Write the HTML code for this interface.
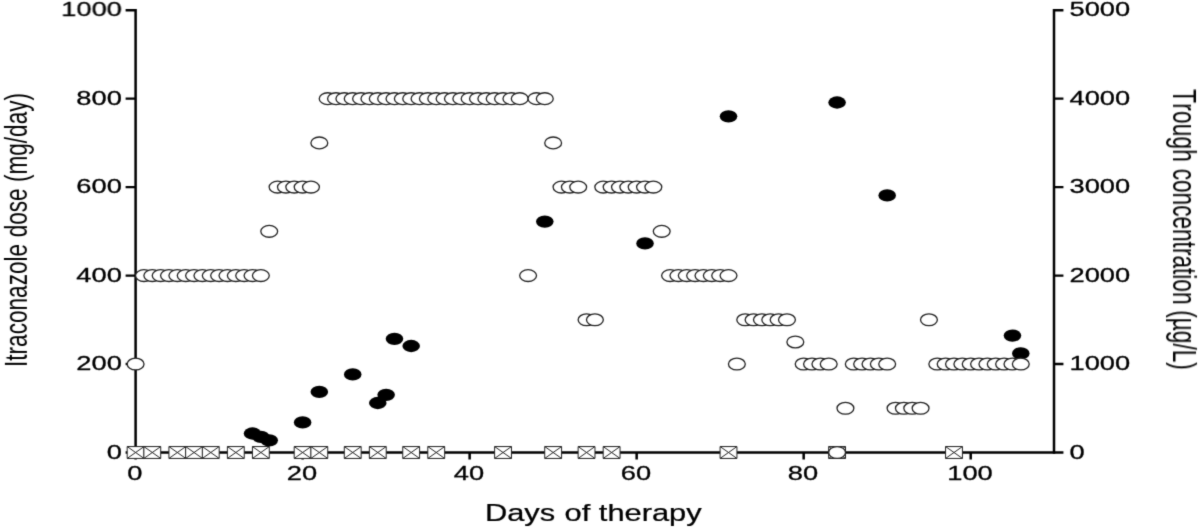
<!DOCTYPE html>
<html lang="en">
<head>
<meta charset="utf-8">
<title>Itraconazole dose and trough concentration</title>
<style>
html,body{margin:0;padding:0;background:#fff;}
body{width:1200px;height:528px;overflow:hidden;}
svg{display:block;will-change:transform;}
</style>
</head>
<body>
<svg width="1200" height="528" viewBox="0 0 1200 528">
<defs><filter id="soft" x="0" y="0" width="1200" height="528" filterUnits="userSpaceOnUse" color-interpolation-filters="sRGB"><feConvolveMatrix order="3" kernelMatrix="2 9 2 9 56 9 2 9 2" divisor="100" edgeMode="duplicate" preserveAlpha="true"/></filter></defs>
<rect width="1200" height="528" fill="#fff"/>
<g filter="url(#soft)">
<rect width="1200" height="528" fill="#fff"/>
<g transform="scale(1.4286,1)" stroke-linecap="butt">
<path d="M94.04 452.5H738.66M87.92 452.5H94.92M737.79 452.5H744.39M87.92 364.04H94.92M737.79 364.04H744.39M87.92 275.58H94.92M737.79 275.58H744.39M87.92 187.12H94.92M737.79 187.12H744.39M87.92 98.66H94.92M737.79 98.66H744.39M87.92 10.2H94.92M737.79 10.2H744.39" fill="none" stroke="#000" stroke-width="2.4"/>
<path d="M94.92 9V453.7M737.79 9V453.7M94.92 452.5V459.5M211.83 452.5V459.5M328.74 452.5V459.5M445.65 452.5V459.5M562.56 452.5V459.5M679.48 452.5V459.5" fill="none" stroke="#000" stroke-width="1.75"/>
<g fill="#fff" stroke="#222" stroke-width="1.0">
<path vector-effect="non-scaling-stroke" d="M89.02 446.55h11.8v11.9h-11.8z M89.02 446.55l11.8 11.9 M89.02 458.45l11.8 -11.9"/>
<path vector-effect="non-scaling-stroke" d="M100.71 446.55h11.8v11.9h-11.8z M100.71 446.55l11.8 11.9 M100.71 458.45l11.8 -11.9"/>
<path vector-effect="non-scaling-stroke" d="M118.25 446.55h11.8v11.9h-11.8z M118.25 446.55l11.8 11.9 M118.25 458.45l11.8 -11.9"/>
<path vector-effect="non-scaling-stroke" d="M129.94 446.55h11.8v11.9h-11.8z M129.94 446.55l11.8 11.9 M129.94 458.45l11.8 -11.9"/>
<path vector-effect="non-scaling-stroke" d="M141.63 446.55h11.8v11.9h-11.8z M141.63 446.55l11.8 11.9 M141.63 458.45l11.8 -11.9"/>
<path vector-effect="non-scaling-stroke" d="M159.17 446.55h11.8v11.9h-11.8z M159.17 446.55l11.8 11.9 M159.17 458.45l11.8 -11.9"/>
<path vector-effect="non-scaling-stroke" d="M176.7 446.55h11.8v11.9h-11.8z M176.7 446.55l11.8 11.9 M176.7 458.45l11.8 -11.9"/>
<path vector-effect="non-scaling-stroke" d="M205.93 446.55h11.8v11.9h-11.8z M205.93 446.55l11.8 11.9 M205.93 458.45l11.8 -11.9"/>
<path vector-effect="non-scaling-stroke" d="M217.62 446.55h11.8v11.9h-11.8z M217.62 446.55l11.8 11.9 M217.62 458.45l11.8 -11.9"/>
<path vector-effect="non-scaling-stroke" d="M241 446.55h11.8v11.9h-11.8z M241 446.55l11.8 11.9 M241 458.45l11.8 -11.9"/>
<path vector-effect="non-scaling-stroke" d="M258.54 446.55h11.8v11.9h-11.8z M258.54 446.55l11.8 11.9 M258.54 458.45l11.8 -11.9"/>
<path vector-effect="non-scaling-stroke" d="M281.92 446.55h11.8v11.9h-11.8z M281.92 446.55l11.8 11.9 M281.92 458.45l11.8 -11.9"/>
<path vector-effect="non-scaling-stroke" d="M299.46 446.55h11.8v11.9h-11.8z M299.46 446.55l11.8 11.9 M299.46 458.45l11.8 -11.9"/>
<path vector-effect="non-scaling-stroke" d="M346.22 446.55h11.8v11.9h-11.8z M346.22 446.55l11.8 11.9 M346.22 458.45l11.8 -11.9"/>
<path vector-effect="non-scaling-stroke" d="M381.3 446.55h11.8v11.9h-11.8z M381.3 446.55l11.8 11.9 M381.3 458.45l11.8 -11.9"/>
<path vector-effect="non-scaling-stroke" d="M404.68 446.55h11.8v11.9h-11.8z M404.68 446.55l11.8 11.9 M404.68 458.45l11.8 -11.9"/>
<path vector-effect="non-scaling-stroke" d="M422.22 446.55h11.8v11.9h-11.8z M422.22 446.55l11.8 11.9 M422.22 458.45l11.8 -11.9"/>
<path vector-effect="non-scaling-stroke" d="M504.05 446.55h11.8v11.9h-11.8z M504.05 446.55l11.8 11.9 M504.05 458.45l11.8 -11.9"/>
<path vector-effect="non-scaling-stroke" d="M580.05 446.55h11.8v11.9h-11.8z M580.05 446.55l11.8 11.9 M580.05 458.45l11.8 -11.9"/>
<path vector-effect="non-scaling-stroke" d="M661.89 446.55h11.8v11.9h-11.8z M661.89 446.55l11.8 11.9 M661.89 458.45l11.8 -11.9"/>
</g>
<g fill="#000">
<circle cx="176.76" cy="433.5" r="6.15"/>
<circle cx="182.6" cy="436.9" r="6.15"/>
<circle cx="188.45" cy="440.3" r="6.15"/>
<circle cx="211.83" cy="422.4" r="6.15"/>
<circle cx="223.52" cy="391.9" r="6.15"/>
<circle cx="246.9" cy="374.4" r="6.15"/>
<circle cx="264.44" cy="403" r="6.15"/>
<circle cx="270.29" cy="394.8" r="6.15"/>
<circle cx="276.13" cy="338.8" r="6.15"/>
<circle cx="287.82" cy="346" r="6.15"/>
<circle cx="381.35" cy="221.6" r="6.15"/>
<circle cx="451.5" cy="243.4" r="6.15"/>
<circle cx="509.95" cy="116.3" r="6.15"/>
<circle cx="585.95" cy="102.5" r="6.15"/>
<circle cx="621.02" cy="195.4" r="6.15"/>
<circle cx="708.7" cy="335.6" r="6.15"/>
<circle cx="714.55" cy="353.4" r="6.15"/>
</g>
<g fill="#fff" stroke="#222" stroke-width="1.3">
<circle vector-effect="non-scaling-stroke" cx="94.92" cy="364.04" r="5.9"/>
<circle vector-effect="non-scaling-stroke" cx="100.76" cy="275.58" r="5.9"/>
<circle vector-effect="non-scaling-stroke" cx="106.61" cy="275.58" r="5.9"/>
<circle vector-effect="non-scaling-stroke" cx="112.45" cy="275.58" r="5.9"/>
<circle vector-effect="non-scaling-stroke" cx="118.3" cy="275.58" r="5.9"/>
<circle vector-effect="non-scaling-stroke" cx="124.15" cy="275.58" r="5.9"/>
<circle vector-effect="non-scaling-stroke" cx="129.99" cy="275.58" r="5.9"/>
<circle vector-effect="non-scaling-stroke" cx="135.84" cy="275.58" r="5.9"/>
<circle vector-effect="non-scaling-stroke" cx="141.68" cy="275.58" r="5.9"/>
<circle vector-effect="non-scaling-stroke" cx="147.53" cy="275.58" r="5.9"/>
<circle vector-effect="non-scaling-stroke" cx="153.37" cy="275.58" r="5.9"/>
<circle vector-effect="non-scaling-stroke" cx="159.22" cy="275.58" r="5.9"/>
<circle vector-effect="non-scaling-stroke" cx="165.07" cy="275.58" r="5.9"/>
<circle vector-effect="non-scaling-stroke" cx="170.91" cy="275.58" r="5.9"/>
<circle vector-effect="non-scaling-stroke" cx="176.76" cy="275.58" r="5.9"/>
<circle vector-effect="non-scaling-stroke" cx="182.6" cy="275.58" r="5.9"/>
<circle vector-effect="non-scaling-stroke" cx="188.45" cy="231.35" r="5.9"/>
<circle vector-effect="non-scaling-stroke" cx="194.29" cy="187.12" r="5.9"/>
<circle vector-effect="non-scaling-stroke" cx="200.14" cy="187.12" r="5.9"/>
<circle vector-effect="non-scaling-stroke" cx="205.98" cy="187.12" r="5.9"/>
<circle vector-effect="non-scaling-stroke" cx="211.83" cy="187.12" r="5.9"/>
<circle vector-effect="non-scaling-stroke" cx="217.68" cy="187.12" r="5.9"/>
<circle vector-effect="non-scaling-stroke" cx="223.52" cy="142.89" r="5.9"/>
<circle vector-effect="non-scaling-stroke" cx="229.37" cy="98.66" r="5.9"/>
<circle vector-effect="non-scaling-stroke" cx="235.21" cy="98.66" r="5.9"/>
<circle vector-effect="non-scaling-stroke" cx="241.06" cy="98.66" r="5.9"/>
<circle vector-effect="non-scaling-stroke" cx="246.9" cy="98.66" r="5.9"/>
<circle vector-effect="non-scaling-stroke" cx="252.75" cy="98.66" r="5.9"/>
<circle vector-effect="non-scaling-stroke" cx="258.59" cy="98.66" r="5.9"/>
<circle vector-effect="non-scaling-stroke" cx="264.44" cy="98.66" r="5.9"/>
<circle vector-effect="non-scaling-stroke" cx="270.29" cy="98.66" r="5.9"/>
<circle vector-effect="non-scaling-stroke" cx="276.13" cy="98.66" r="5.9"/>
<circle vector-effect="non-scaling-stroke" cx="281.98" cy="98.66" r="5.9"/>
<circle vector-effect="non-scaling-stroke" cx="287.82" cy="98.66" r="5.9"/>
<circle vector-effect="non-scaling-stroke" cx="293.67" cy="98.66" r="5.9"/>
<circle vector-effect="non-scaling-stroke" cx="299.51" cy="98.66" r="5.9"/>
<circle vector-effect="non-scaling-stroke" cx="305.36" cy="98.66" r="5.9"/>
<circle vector-effect="non-scaling-stroke" cx="311.2" cy="98.66" r="5.9"/>
<circle vector-effect="non-scaling-stroke" cx="317.05" cy="98.66" r="5.9"/>
<circle vector-effect="non-scaling-stroke" cx="322.9" cy="98.66" r="5.9"/>
<circle vector-effect="non-scaling-stroke" cx="328.74" cy="98.66" r="5.9"/>
<circle vector-effect="non-scaling-stroke" cx="334.59" cy="98.66" r="5.9"/>
<circle vector-effect="non-scaling-stroke" cx="340.43" cy="98.66" r="5.9"/>
<circle vector-effect="non-scaling-stroke" cx="346.28" cy="98.66" r="5.9"/>
<circle vector-effect="non-scaling-stroke" cx="352.12" cy="98.66" r="5.9"/>
<circle vector-effect="non-scaling-stroke" cx="357.97" cy="98.66" r="5.9"/>
<circle vector-effect="non-scaling-stroke" cx="363.81" cy="98.66" r="5.9"/>
<circle vector-effect="non-scaling-stroke" cx="369.66" cy="275.58" r="5.9"/>
<circle vector-effect="non-scaling-stroke" cx="375.51" cy="98.66" r="5.9"/>
<circle vector-effect="non-scaling-stroke" cx="381.35" cy="98.66" r="5.9"/>
<circle vector-effect="non-scaling-stroke" cx="387.2" cy="142.89" r="5.9"/>
<circle vector-effect="non-scaling-stroke" cx="393.04" cy="187.12" r="5.9"/>
<circle vector-effect="non-scaling-stroke" cx="398.89" cy="187.12" r="5.9"/>
<circle vector-effect="non-scaling-stroke" cx="404.73" cy="187.12" r="5.9"/>
<circle vector-effect="non-scaling-stroke" cx="410.58" cy="319.81" r="5.9"/>
<circle vector-effect="non-scaling-stroke" cx="416.43" cy="319.81" r="5.9"/>
<circle vector-effect="non-scaling-stroke" cx="422.27" cy="187.12" r="5.9"/>
<circle vector-effect="non-scaling-stroke" cx="428.12" cy="187.12" r="5.9"/>
<circle vector-effect="non-scaling-stroke" cx="433.96" cy="187.12" r="5.9"/>
<circle vector-effect="non-scaling-stroke" cx="439.81" cy="187.12" r="5.9"/>
<circle vector-effect="non-scaling-stroke" cx="445.65" cy="187.12" r="5.9"/>
<circle vector-effect="non-scaling-stroke" cx="451.5" cy="187.12" r="5.9"/>
<circle vector-effect="non-scaling-stroke" cx="457.34" cy="187.12" r="5.9"/>
<circle vector-effect="non-scaling-stroke" cx="463.19" cy="231.35" r="5.9"/>
<circle vector-effect="non-scaling-stroke" cx="469.04" cy="275.58" r="5.9"/>
<circle vector-effect="non-scaling-stroke" cx="474.88" cy="275.58" r="5.9"/>
<circle vector-effect="non-scaling-stroke" cx="480.73" cy="275.58" r="5.9"/>
<circle vector-effect="non-scaling-stroke" cx="486.57" cy="275.58" r="5.9"/>
<circle vector-effect="non-scaling-stroke" cx="492.42" cy="275.58" r="5.9"/>
<circle vector-effect="non-scaling-stroke" cx="498.26" cy="275.58" r="5.9"/>
<circle vector-effect="non-scaling-stroke" cx="504.11" cy="275.58" r="5.9"/>
<circle vector-effect="non-scaling-stroke" cx="509.95" cy="275.58" r="5.9"/>
<circle vector-effect="non-scaling-stroke" cx="515.8" cy="364.04" r="5.9"/>
<circle vector-effect="non-scaling-stroke" cx="521.65" cy="319.81" r="5.9"/>
<circle vector-effect="non-scaling-stroke" cx="527.49" cy="319.81" r="5.9"/>
<circle vector-effect="non-scaling-stroke" cx="533.34" cy="319.81" r="5.9"/>
<circle vector-effect="non-scaling-stroke" cx="539.18" cy="319.81" r="5.9"/>
<circle vector-effect="non-scaling-stroke" cx="545.03" cy="319.81" r="5.9"/>
<circle vector-effect="non-scaling-stroke" cx="550.87" cy="319.81" r="5.9"/>
<circle vector-effect="non-scaling-stroke" cx="556.72" cy="341.93" r="5.9"/>
<circle vector-effect="non-scaling-stroke" cx="562.56" cy="364.04" r="5.9"/>
<circle vector-effect="non-scaling-stroke" cx="568.41" cy="364.04" r="5.9"/>
<circle vector-effect="non-scaling-stroke" cx="574.26" cy="364.04" r="5.9"/>
<circle vector-effect="non-scaling-stroke" cx="580.1" cy="364.04" r="5.9"/>
<circle vector-effect="non-scaling-stroke" cx="585.95" cy="452.5" r="5.9"/>
<circle vector-effect="non-scaling-stroke" cx="591.79" cy="408.27" r="5.9"/>
<circle vector-effect="non-scaling-stroke" cx="597.64" cy="364.04" r="5.9"/>
<circle vector-effect="non-scaling-stroke" cx="603.48" cy="364.04" r="5.9"/>
<circle vector-effect="non-scaling-stroke" cx="609.33" cy="364.04" r="5.9"/>
<circle vector-effect="non-scaling-stroke" cx="615.17" cy="364.04" r="5.9"/>
<circle vector-effect="non-scaling-stroke" cx="621.02" cy="364.04" r="5.9"/>
<circle vector-effect="non-scaling-stroke" cx="626.87" cy="408.27" r="5.9"/>
<circle vector-effect="non-scaling-stroke" cx="632.71" cy="408.27" r="5.9"/>
<circle vector-effect="non-scaling-stroke" cx="638.56" cy="408.27" r="5.9"/>
<circle vector-effect="non-scaling-stroke" cx="644.4" cy="408.27" r="5.9"/>
<circle vector-effect="non-scaling-stroke" cx="650.25" cy="319.81" r="5.9"/>
<circle vector-effect="non-scaling-stroke" cx="656.09" cy="364.04" r="5.9"/>
<circle vector-effect="non-scaling-stroke" cx="661.94" cy="364.04" r="5.9"/>
<circle vector-effect="non-scaling-stroke" cx="667.79" cy="364.04" r="5.9"/>
<circle vector-effect="non-scaling-stroke" cx="673.63" cy="364.04" r="5.9"/>
<circle vector-effect="non-scaling-stroke" cx="679.48" cy="364.04" r="5.9"/>
<circle vector-effect="non-scaling-stroke" cx="685.32" cy="364.04" r="5.9"/>
<circle vector-effect="non-scaling-stroke" cx="691.17" cy="364.04" r="5.9"/>
<circle vector-effect="non-scaling-stroke" cx="697.01" cy="364.04" r="5.9"/>
<circle vector-effect="non-scaling-stroke" cx="702.86" cy="364.04" r="5.9"/>
<circle vector-effect="non-scaling-stroke" cx="708.7" cy="364.04" r="5.9"/>
<circle vector-effect="non-scaling-stroke" cx="714.55" cy="364.04" r="5.9"/>
</g>
</g>
<g font-family="'Liberation Sans', Arial, sans-serif" fill="#000" style="font-kerning:none">
<g font-size="19.5" stroke="#000" stroke-width="0.3" stroke-linejoin="round">
<text transform="translate(121.9 458.6) scale(1.4 1)" text-anchor="end">0</text>
<text transform="translate(121.9 370.14) scale(1.4 1)" text-anchor="end">200</text>
<text transform="translate(121.9 281.68) scale(1.4 1)" text-anchor="end">400</text>
<text transform="translate(121.9 193.22) scale(1.4 1)" text-anchor="end">600</text>
<text transform="translate(121.9 104.76) scale(1.4 1)" text-anchor="end">800</text>
<text transform="translate(121.9 16.3) scale(1.4 1)" text-anchor="end">1000</text>
<text transform="translate(1069.5 458.6) scale(1.4 1)">0</text>
<text transform="translate(1069.5 370.14) scale(1.4 1)">1000</text>
<text transform="translate(1069.5 281.68) scale(1.4 1)">2000</text>
<text transform="translate(1069.5 193.22) scale(1.4 1)">3000</text>
<text transform="translate(1069.5 104.76) scale(1.4 1)">4000</text>
<text transform="translate(1069.5 16.3) scale(1.4 1)">5000</text>
<text transform="translate(134.9 480.3) scale(1.4 1)" text-anchor="middle">0</text>
<text transform="translate(301.92 480.3) scale(1.4 1)" text-anchor="middle">20</text>
<text transform="translate(468.94 480.3) scale(1.4 1)" text-anchor="middle">40</text>
<text transform="translate(635.96 480.3) scale(1.4 1)" text-anchor="middle">60</text>
<text transform="translate(802.98 480.3) scale(1.4 1)" text-anchor="middle">80</text>
<text transform="translate(970 480.3) scale(1.4 1)" text-anchor="middle">100</text>
</g>
<g font-size="22.6">
<text font-size="23.7" stroke="#000" stroke-width="0.25" transform="translate(593.3 520.8) scale(1.302 1)" text-anchor="middle">Days<tspan dx="0.6"> of therapy</tspan></text>
<text transform="translate(26.6 367.0) scale(1.4286 1) rotate(-90)">Itraconazole<tspan dx="0.3"> dose</tspan> (mg/day)</text>
<text font-size="22.65" transform="translate(1173.3 89.3) scale(1.4286 1) rotate(90)"><tspan letter-spacing="0.2">Trough</tspan><tspan dx="0.2"> concentration</tspan><tspan dx="-0.6"> (µg/L)</tspan></text>
</g></g>
</g>
</svg>
</body>
</html>
